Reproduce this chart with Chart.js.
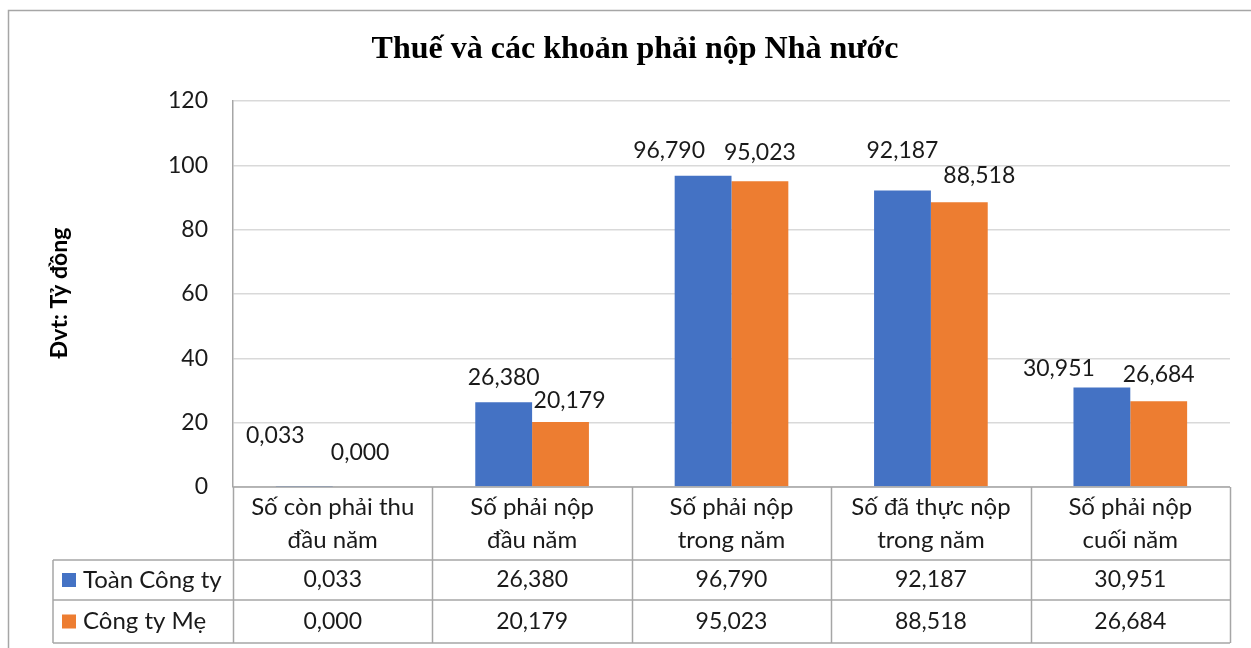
<!DOCTYPE html>
<html>
<head>
<meta charset="utf-8">
<script src="https://cdn.jsdelivr.net/npm/chart.js@4"></script>
<style>
  html, body { margin: 0; padding: 0; background: #fff; }
  #wrap { width: 1251px; height: 648px; }
</style>
</head>
<body>
<div id="wrap"><canvas id="taxChart" width="1251" height="648"></canvas></div>
<script>
// data
const categories = [
    ['Số còn phải thu', 'đầu năm'],
    ['Số phải nộp', 'đầu năm'],
    ['Số phải nộp', 'trong năm'],
    ['Số đã thực nộp', 'trong năm'],
    ['Số phải nộp', 'cuối năm']
];
const seriesNames = ['Toàn Công ty', 'Công ty Mẹ'];
const toanCongTy = [0.033, 26.380, 96.790, 92.187, 30.951];
const congTyMe = [0.000, 20.179, 95.023, 88.518, 26.684];
const yTicks = [0, 20, 40, 60, 80, 100, 120];

const colors = ['#4472C4', '#ED7D31'];
const textFont = 'Lato, "Noto Sans", sans-serif';
const lineGray = '#a6a6a6';

const fmt = v => v.toFixed(3).replace('.', ',');

// Excel nudged some labels around, keep the same nudges
const labelNudge = [
    [[-29, -29], [0, -3], [-34, -3], [0, -18], [-43, 3]],
    [[-1, -12], [9, 0], [0, -7], [20, -5], [0, -5]]
];

const extras = {
    id: 'extras',
    afterDatasetsDraw(chart) {
        const ctx = chart.ctx;
        ctx.save();
        ctx.font = '23px ' + textFont;
        ctx.fillStyle = '#1a1a1a';
        ctx.textAlign = 'center';
        ctx.textBaseline = 'middle';
        chart.data.datasets.forEach((ds, di) => {
            chart.getDatasetMeta(di).data.forEach((bar, i) => {
                const n = labelNudge[di][i];
                ctx.fillText(fmt(ds.data[i]), bar.x + n[0], bar.y - 22 + n[1]);
            });
        });
        ctx.restore();
    },
    afterDraw(chart) {
        const ctx = chart.ctx;
        const x = chart.scales.x;
        const area = chart.chartArea;
        const step = (x.right - x.left) / categories.length;
        const top = area.bottom;
        const rows = [top, top + 73, top + 113, top + 156];
        const legendLeft = 53;

        ctx.save();
        // outer frame
        ctx.strokeStyle = '#a6a6a6';
        ctx.lineWidth = 1.5;
        ctx.strokeRect(8.5, 10.5, 1300, 700);

        // title
        ctx.fillStyle = '#000';
        ctx.font = 'bold 32px "Liberation Serif", "Times New Roman", serif';
        ctx.textAlign = 'center';
        ctx.textBaseline = 'middle';
        ctx.fillText('Thuế và các khoản phải nộp Nhà nước', 635, 50);

        // y axis title
        ctx.save();
        ctx.translate(60, 293);
        ctx.rotate(-Math.PI / 2);
        ctx.font = 'bold 23px ' + textFont;
        ctx.fillText('Đvt: Tỷ đồng', 0, 0);
        ctx.restore();

        // table lines
        ctx.strokeStyle = lineGray;
        ctx.lineWidth = 1.5;
        ctx.beginPath();
        ctx.moveTo(x.left, rows[0]); ctx.lineTo(x.right, rows[0]);
        for (let r = 1; r < rows.length; r++) {
            ctx.moveTo(legendLeft, rows[r]); ctx.lineTo(x.right, rows[r]);
        }
        for (let i = 0; i <= categories.length; i++) {
            const cx = Math.round(x.left + i * step) + 0.5;
            ctx.moveTo(cx, rows[0]); ctx.lineTo(cx, rows[3]);
        }
        ctx.moveTo(legendLeft, rows[1]); ctx.lineTo(legendLeft, rows[3]);
        ctx.stroke();

        // category headers
        ctx.font = '24px ' + textFont;
        ctx.fillStyle = '#1a1a1a';
        categories.forEach((lines, i) => {
            const cx = x.getPixelForValue(i);
            ctx.fillText(lines[0], cx, top + 20);
            ctx.fillText(lines[1], cx, top + 53);
        });

        // value rows
        const rowSeries = [toanCongTy, congTyMe];
        rowSeries.forEach((vals, r) => {
            const cy = (rows[r + 1] + rows[r + 2]) / 2;
            ctx.font = '23px ' + textFont;
            vals.forEach((v, i) => {
                ctx.textAlign = 'center';
                ctx.fillText(fmt(v), x.getPixelForValue(i), cy);
            });
            ctx.fillStyle = colors[r];
            ctx.fillRect(62, cy - 7, 14, 14);
            ctx.fillStyle = '#1a1a1a';
            ctx.textAlign = 'left';
            ctx.font = '24px ' + textFont;
            ctx.fillText(seriesNames[r], 83, cy);
        });
        ctx.restore();
    }
};

new Chart(document.getElementById('taxChart').getContext('2d'), {
    type: 'bar',
    data: {
        labels: categories,
        datasets: [{
            label: seriesNames[0],
            data: toanCongTy,
            backgroundColor: colors[0]
        }, {
            label: seriesNames[1],
            data: congTyMe,
            backgroundColor: colors[1]
        }]
    },
    options: {
        responsive: false,
        animation: false,
        layout: {
            padding: { top: 101, right: 21, bottom: 161, left: 0 }
        },
        datasets: {
            bar: { categoryPercentage: 0.57, barPercentage: 1.0 }
        },
        plugins: {
            legend: { display: false },
            title: { display: false },
            tooltip: { enabled: false }
        },
        scales: {
            x: { display: false },
            y: {
                min: yTicks[0],
                max: yTicks[yTicks.length - 1],
                afterFit(scale) { scale.width = 233; },
                afterBuildTicks(scale) { scale.ticks = yTicks.map(v => ({ value: v })); },
                grid: { color: '#d9d9d9', lineWidth: 1.5, drawTicks: false },
                border: { display: true, color: lineGray, width: 1.5 },
                ticks: {
                    padding: 25,
                    color: '#1a1a1a',
                    font: { family: textFont, size: 23 }
                }
            }
        }
    },
    plugins: [extras]
});
</script>
</body>
</html>
